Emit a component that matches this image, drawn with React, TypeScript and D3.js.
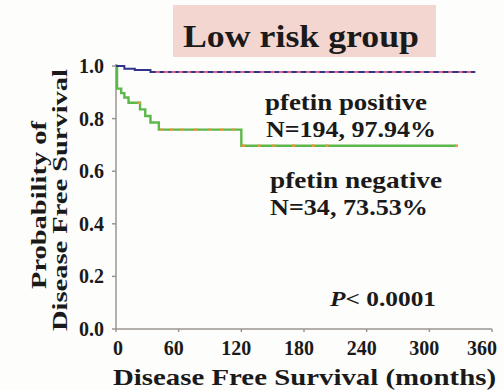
import React, { useRef, useEffect } from "react";
import * as d3 from "d3";

// step points: [months, survival]
const positiveSteps: [number, number][] = [
  [0, 1.0], [8, 0.99], [18, 0.985], [33, 0.977], [344, 0.977],
];
const negativeSteps: [number, number][] = [
  [0, 1.0], [1, 0.914], [5, 0.897], [8, 0.88], [12, 0.86], [23, 0.835],
  [28, 0.81], [33, 0.785], [41, 0.758], [120, 0.697], [326, 0.697],
];
const positiveCensored = [
  40, 48, 55, 62, 70, 78, 86, 95, 104, 112, 121, 130, 140, 150, 158, 166,
  175, 184, 193, 202, 211, 220, 230, 240, 250, 258, 266, 275, 284, 293,
  302, 311, 320, 330, 338,
];
const negativeCensored = [22, 44, 53, 63, 76, 90, 101, 112, 122, 137, 151, 170, 189, 202, 326];
const xTicks = [0, 60, 120, 180, 240, 300, 360];
const yTicks = [0, 0.2, 0.4, 0.6, 0.8, 1.0];

const serif = "'Liberation Serif', 'Times New Roman', serif";

export default function App() {
  const ref = useRef<SVGSVGElement>(null);

  useEffect(() => {
    const width = 504;
    const height = 390;
    const svg = d3.select(ref.current);
    svg.selectAll("*").remove();
    svg.attr("width", width).attr("height", height);

    svg.append("rect").attr("width", width).attr("height", height).attr("fill", "#fdfdfb");

    const x = d3.scaleLinear().domain([0, 360]).range([116, 492]);
    const y = d3.scaleLinear().domain([0, 1]).range([329, 66]);

    const label = (tx: number, ty: number, s: string, size: number, len?: number) => {
      const t = svg.append("text").attr("x", tx).attr("y", ty)
        .attr("font-family", serif).attr("font-weight", "bold").attr("font-size", size)
        .attr("fill", "#1a1a1a").text(s);
      if (len) t.attr("textLength", len).attr("lengthAdjust", "spacingAndGlyphs");
      return t;
    };

    // title box
    svg.append("rect")
      .attr("x", 173).attr("y", 5).attr("width", 263).attr("height", 52)
      .attr("fill", "#f2d6cf");
    label(183, 47, "Low risk group", 32, 236);

    // axes
    const axisColor = "#9a9590";
    svg.append("line").attr("x1", x(0)).attr("x2", x(360)).attr("y1", y(0)).attr("y2", y(0))
      .attr("stroke", axisColor).attr("stroke-width", 1.5);
    svg.append("line").attr("x1", x(0)).attr("x2", x(0)).attr("y1", y(0)).attr("y2", y(1) - 2)
      .attr("stroke", axisColor).attr("stroke-width", 1.5);

    svg.selectAll(".xt").data(xTicks).enter().append("line")
      .attr("x1", d => x(d)).attr("x2", d => x(d))
      .attr("y1", y(0)).attr("y2", y(0) + 3)
      .attr("stroke", axisColor).attr("stroke-width", 1.5);
    svg.selectAll(".xl").data(xTicks).enter().append("text")
      .attr("x", d => (d === 0 ? x(d) + 2 : d === 360 ? x(d) - 10 : x(d) - 5)).attr("y", 355)
      .attr("text-anchor", "middle")
      .attr("font-family", serif).attr("font-weight", "bold").attr("font-size", 20)
      .attr("fill", "#1a1a1a")
      .text(d => d);

    svg.selectAll(".yt").data(yTicks).enter().append("line")
      .attr("x1", x(0) - 4).attr("x2", x(0))
      .attr("y1", d => y(d)).attr("y2", d => y(d))
      .attr("stroke", axisColor).attr("stroke-width", 1.5);
    svg.selectAll(".yl").data(yTicks).enter().append("text")
      .attr("x", 104).attr("y", d => y(d) + 7)
      .attr("text-anchor", "end")
      .attr("font-family", serif).attr("font-weight", "bold").attr("font-size", 20)
      .attr("fill", "#1a1a1a")
      .text(d => d.toFixed(1));

    // axis titles
    label(113, 385, "Disease Free Survival (months)", 24, 383);
    const yTitle = svg.append("g").attr("transform", "rotate(-90)");
    yTitle.append("text")
      .attr("x", -205).attr("y", 46)
      .attr("text-anchor", "middle")
      .attr("font-family", serif).attr("font-weight", "bold").attr("font-size", 22)
      .attr("fill", "#1a1a1a")
      .attr("textLength", 168).attr("lengthAdjust", "spacingAndGlyphs")
      .text("Probability of");
    yTitle.append("text")
      .attr("x", -200).attr("y", 67)
      .attr("text-anchor", "middle")
      .attr("font-family", serif).attr("font-weight", "bold").attr("font-size", 22)
      .attr("fill", "#1a1a1a")
      .attr("textLength", 262).attr("lengthAdjust", "spacingAndGlyphs")
      .text("Disease Free Survival");

    const line = d3.line<[number, number]>()
      .x(d => x(d[0])).y(d => y(d[1]))
      .curve(d3.curveStepAfter);

    const valueAt = (steps: [number, number][], t: number) => {
      let v = steps[0][1];
      for (const s of steps) if (s[0] <= t) v = s[1];
      return v;
    };

    // negative (green)
    svg.append("path").attr("d", line(negativeSteps))
      .attr("fill", "none").attr("stroke", "#5cb84a").attr("stroke-width", 2.4);
    svg.selectAll(".nc").data(negativeCensored).enter().append("line")
      .attr("x1", d => x(d) - 1.5).attr("x2", d => x(d) + 1.5)
      .attr("y1", d => y(valueAt(negativeSteps, d)))
      .attr("y2", d => y(valueAt(negativeSteps, d)))
      .attr("stroke", "#e89a3a").attr("stroke-width", 2.5);

    // positive (blue)
    svg.append("path").attr("d", line(positiveSteps))
      .attr("fill", "none").attr("stroke", "#33338a").attr("stroke-width", 2);
    svg.selectAll(".pc").data(positiveCensored).enter().append("line")
      .attr("x1", d => x(d) - 2).attr("x2", d => x(d) + 2)
      .attr("y1", d => y(valueAt(positiveSteps, d)))
      .attr("y2", d => y(valueAt(positiveSteps, d)))
      .attr("stroke", "#e0668e").attr("stroke-width", 2);

    // annotations
    label(265, 110, "pfetin positive", 23, 162);
    label(266, 137, "N=194, 97.94%", 23, 170);
    label(270, 188, "pfetin negative", 23, 172);
    label(270, 215, "N=34, 73.53%", 23, 158);

    const p = label(330, 306, "", 21, 106);
    p.append("tspan").attr("font-style", "italic").text("P");
    p.append("tspan").text("< 0.0001");
  }, []);

  return <svg ref={ref} style={{ position: "absolute", left: 0, top: 0 }}></svg>;
}
